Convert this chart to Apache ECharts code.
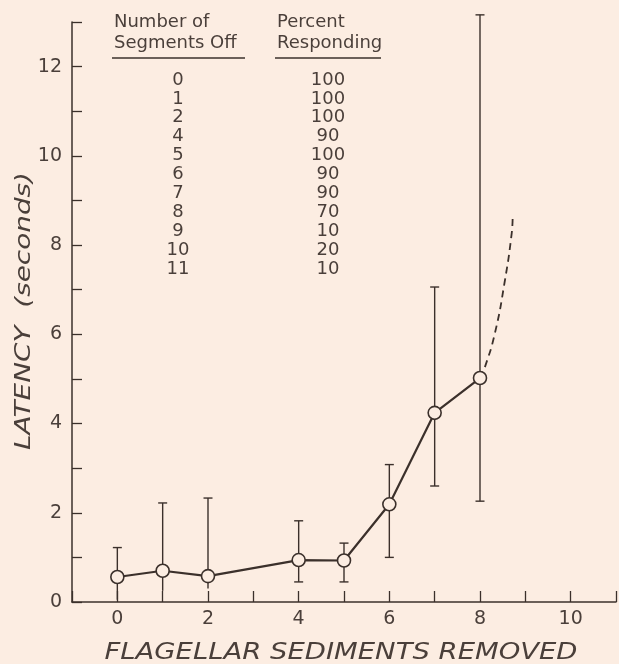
<!DOCTYPE html>
<html>
<head>
<meta charset="utf-8">
<script src="https://cdn.jsdelivr.net/npm/echarts@6/dist/echarts.min.js"></script>
<style>
html,body{margin:0;padding:0;background:#fcede2;}
#chart{width:619px;height:664px;}
</style>
</head>
<body>
<div id="chart"></div>
<script>
// ---- data ----
const segmentsRemoved = [0, 1, 2, 4, 5, 6, 7, 8];
const meanLatency     = [0.56, 0.70, 0.58, 0.94, 0.93, 2.19, 4.24, 5.02];
const errUpper        = [1.22, 2.22, 2.33, 1.82, 1.32, 3.08, 7.06, 13.16];
const errLower        = [0.05, 0.25, 0.30, 0.45, 0.45, 1.00, 2.60, 2.26];
const lowerCap        = [0, 0, 0, 1, 1, 1, 1, 1];
const extrapX         = [8, 8.11, 8.33, 8.54, 8.70, 8.72];
const extrapY         = [5.02, 5.27, 6.03, 7.15, 8.27, 8.61];
const xTickLabels     = ['0', '2', '4', '6', '8', '10'];
const yTickLabels     = ['0', '2', '4', '6', '8', '10', '12'];
const tableHeadLeft   = ['Number of', 'Segments Off'];
const tableHeadRight  = ['Percent', 'Responding'];
const segmentsOff     = ['0', '1', '2', '4', '5', '6', '7', '8', '9', '10', '11'];
const percentResp     = ['100', '100', '100', '90', '100', '90', '90', '70', '10', '20', '10'];
const xTitle = 'FLAGELLAR SEDIMENTS REMOVED';
const yTitle = 'LATENCY  (seconds)';

// ---- styles ----
const INK = '#3b302b';
const TXT = '#4a3f3a';
const BG = '#fcede2';
const FONT_FAMILY = '"DejaVu Sans", sans-serif';

const ctx = document.createElement('canvas').getContext('2d');
function fitScale(text, font, target) {
  ctx.font = font;
  return target / ctx.measureText(text).width;
}

const chart = echarts.init(document.getElementById('chart'), null, {renderer: 'canvas'});

const graphics = [];
const headFont = '18px ' + FONT_FAMILY;
tableHeadLeft.forEach((t, i) => {
  graphics.push({type: 'text', style: {text: t, x: 114, y: 22 + i * 21, font: headFont, fill: TXT,
    align: 'left', verticalAlign: 'middle', textAlign: 'left', textVerticalAlign: 'middle'}});
});
tableHeadRight.forEach((t, i) => {
  graphics.push({type: 'text', style: {text: t, x: 277, y: 22 + i * 21, font: headFont, fill: TXT,
    align: 'left', verticalAlign: 'middle', textAlign: 'left', textVerticalAlign: 'middle'}});
});
graphics.push({type: 'line', shape: {x1: 112, y1: 58, x2: 245, y2: 58}, style: {stroke: INK, lineWidth: 1.3}});
graphics.push({type: 'line', shape: {x1: 275, y1: 58, x2: 381, y2: 58}, style: {stroke: INK, lineWidth: 1.3}});
const rowFont = '18px ' + FONT_FAMILY;
segmentsOff.forEach((t, i) => {
  graphics.push({type: 'text', style: {text: t, x: 178, y: 80 + i * 18.9, font: rowFont, fill: TXT,
    align: 'center', verticalAlign: 'middle', textAlign: 'center', textVerticalAlign: 'middle'}});
});
percentResp.forEach((t, i) => {
  graphics.push({type: 'text', style: {text: t, x: 328, y: 80 + i * 18.9, font: rowFont, fill: TXT,
    align: 'center', verticalAlign: 'middle', textAlign: 'center', textVerticalAlign: 'middle'}});
});
// axis titles
const xTitleFont = 'italic 23px ' + FONT_FAMILY;
const sx = fitScale(xTitle, xTitleFont, 473);
graphics.push({type: 'text', x: 341, y: 653, scaleX: sx, scaleY: 1,
  style: {text: xTitle, x: 0, y: 0, font: xTitleFont, fill: TXT,
    align: 'center', verticalAlign: 'middle', textAlign: 'center', textVerticalAlign: 'middle'}});
const yTitleFont = 'italic 22px ' + FONT_FAMILY;
const sy = fitScale(yTitle, yTitleFont, 278);
graphics.push({type: 'text', x: 24, y: 311, rotation: Math.PI / 2, scaleX: sy, scaleY: 1,
  style: {text: yTitle, x: 0, y: 0, font: yTitleFont, fill: TXT,
    align: 'center', verticalAlign: 'middle', textAlign: 'center', textVerticalAlign: 'middle'}});

const errData = segmentsRemoved.map((x, i) => [x, errLower[i], errUpper[i], lowerCap[i]]);
const meanData = segmentsRemoved.map((x, i) => [x, meanLatency[i]]);
const extrapData = extrapX.map((x, i) => [x, extrapY[i]]);

const option = {
  backgroundColor: BG,
  animation: false,
  grid: {left: 72, right: -3, top: 22, bottom: 62, containLabel: false},
  xAxis: {
    type: 'value', min: -1, max: 11, interval: 1,
    axisLine: {show: true, onZero: false, lineStyle: {color: INK, width: 1.5}},
    axisTick: {show: true, inside: true, length: 11, lineStyle: {color: INK, width: 1.3}},
    splitLine: {show: false},
    axisLabel: {
      margin: 8, color: TXT, fontSize: 19, fontFamily: FONT_FAMILY,
      formatter: v => xTickLabels.indexOf(String(v)) >= 0 ? String(v) : ''
    }
  },
  yAxis: {
    type: 'value', min: 0, max: 13, interval: 1,
    axisLine: {show: true, onZero: false, lineStyle: {color: INK, width: 1.5}},
    axisTick: {show: true, inside: true, length: 10, lineStyle: {color: INK, width: 1.3}},
    splitLine: {show: false},
    axisLabel: {
      margin: 10, color: TXT, fontSize: 19, fontFamily: FONT_FAMILY,
      formatter: v => yTickLabels.indexOf(String(v)) >= 0 ? String(v) : ''
    }
  },
  graphic: graphics,
  series: [
    {
      type: 'custom',
      data: errData,
      encode: {x: 0, y: [1, 2]},
      z: 2,
      renderItem: function (params, api) {
        const x = api.value(0), lo = api.value(1), hi = api.value(2), cap = api.value(3);
        const pHi = api.coord([x, hi]);
        const pLo = api.coord([x, lo]);
        const w = 4.5;
        const st = {stroke: INK, lineWidth: 1.4};
        const children = [
          {type: 'line', shape: {x1: pHi[0], y1: pHi[1], x2: pLo[0], y2: pLo[1]}, style: st},
          {type: 'line', shape: {x1: pHi[0] - w, y1: pHi[1], x2: pHi[0] + w, y2: pHi[1]}, style: st}
        ];
        if (cap) {
          children.push({type: 'line', shape: {x1: pLo[0] - w, y1: pLo[1], x2: pLo[0] + w, y2: pLo[1]}, style: st});
        }
        return {type: 'group', children: children};
      }
    },
    {
      type: 'line',
      data: extrapData,
      smooth: true,
      symbol: 'none',
      z: 3,
      lineStyle: {color: INK, width: 1.8, type: [7, 5]}
    },
    {
      type: 'line',
      data: meanData,
      symbol: 'circle',
      symbolSize: 13,
      z: 5,
      lineStyle: {color: INK, width: 2.2},
      itemStyle: {color: BG, borderColor: INK, borderWidth: 1.6}
    }
  ]
};
chart.setOption(option);
</script>
</body>
</html>
